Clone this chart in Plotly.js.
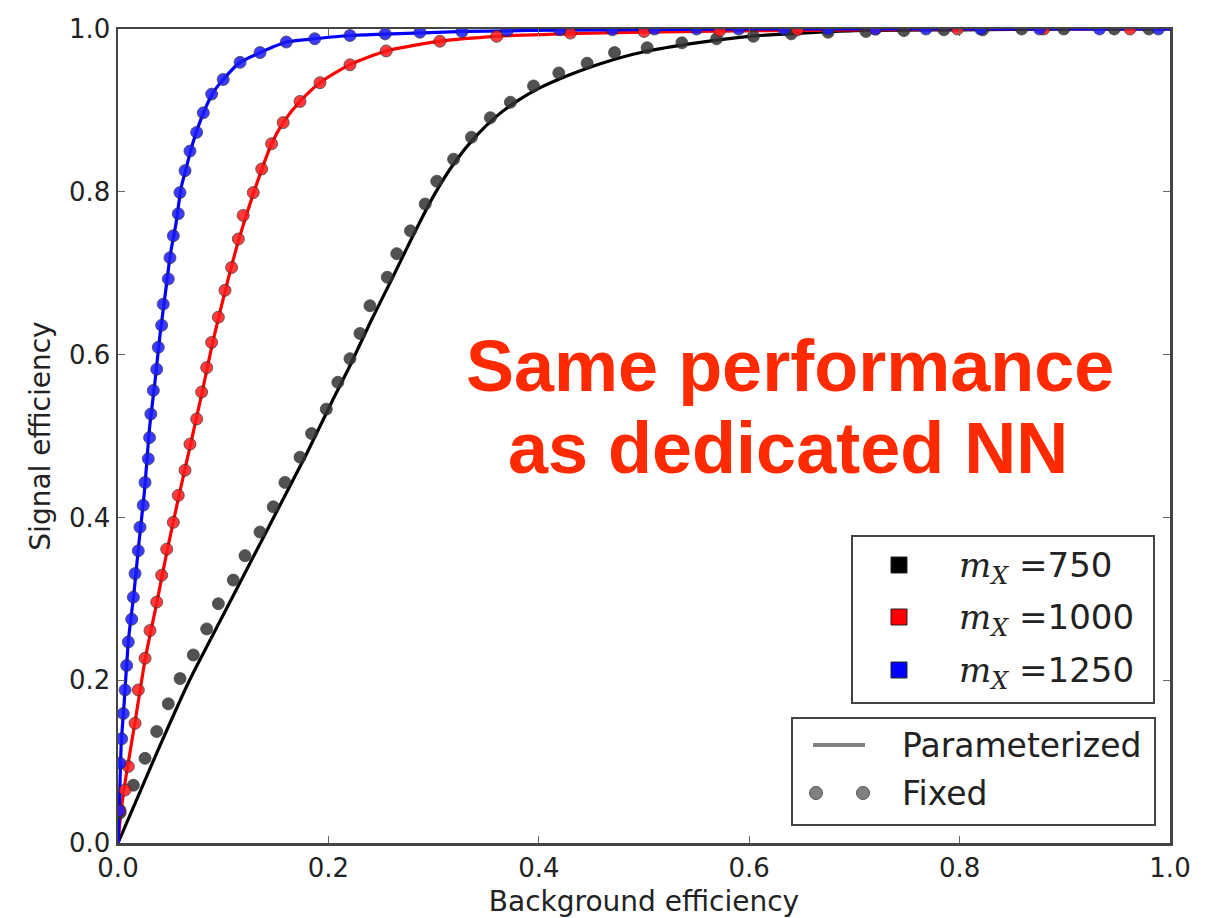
<!DOCTYPE html>
<html>
<head>
<meta charset="utf-8">
<script src="https://cdn.plot.ly/plotly-3.0.1.min.js"></script>
<style>html,body{margin:0;padding:0;background:#fff;}#chart{width:1223px;height:918px;}</style>
</head>
<body>
<div id="chart"></div>
<script>
// Parameterized NN (solid lines)
const param750_x = [0, 0.02, 0.04, 0.068, 0.10, 0.13, 0.15, 0.18, 0.204, 0.22, 0.24, 0.26, 0.28, 0.30, 0.32, 0.34, 0.36, 0.38, 0.40, 0.43, 0.46, 0.50, 0.55, 0.60, 0.65, 0.70, 0.80, 0.90, 1.0];
const param750_y = [0, 0.06, 0.12, 0.20, 0.28, 0.355, 0.405, 0.48, 0.544, 0.585, 0.64, 0.692, 0.745, 0.795, 0.836, 0.868, 0.893, 0.912, 0.927, 0.944, 0.958, 0.972, 0.983, 0.991, 0.995, 0.998, 0.999, 1.0, 1.0];

const param1000_x = [0, 0.003, 0.008, 0.016, 0.026, 0.037, 0.047, 0.058, 0.069, 0.080, 0.090, 0.102, 0.115, 0.129, 0.146, 0.157, 0.173, 0.192, 0.22, 0.255, 0.306, 0.36, 0.45, 0.55, 0.70, 0.85, 1.0];
const param1000_y = [0, 0.04, 0.085, 0.147, 0.227, 0.296, 0.361, 0.427, 0.49, 0.554, 0.615, 0.679, 0.742, 0.799, 0.859, 0.885, 0.911, 0.934, 0.956, 0.973, 0.985, 0.991, 0.995, 0.997, 0.999, 1.0, 1.0];

const param1250_x = [0, 0.001, 0.003, 0.006, 0.010, 0.015, 0.020, 0.025, 0.030, 0.035, 0.040, 0.045, 0.050, 0.055, 0.060, 0.065, 0.070, 0.080, 0.090, 0.100, 0.116, 0.135, 0.160, 0.187, 0.22, 0.26, 0.33, 0.45, 0.60, 0.80, 1.0];
const param1250_y = [0, 0.03, 0.12, 0.175, 0.25, 0.305, 0.37, 0.43, 0.51, 0.565, 0.625, 0.675, 0.725, 0.76, 0.805, 0.83, 0.855, 0.893, 0.921, 0.938, 0.959, 0.971, 0.984, 0.988, 0.992, 0.994, 0.997, 0.999, 1.0, 1.0, 1.0];

// Fixed (dedicated) NN (dots)
const fixed750_x = [0.002, 0.0146, 0.0257, 0.0368, 0.0478, 0.059, 0.0716, 0.0843, 0.0954, 0.1096, 0.1207, 0.135, 0.1476, 0.1587, 0.173, 0.184, 0.198, 0.209, 0.2205, 0.230, 0.2395, 0.256, 0.265, 0.278, 0.292, 0.303, 0.319, 0.336, 0.354, 0.373, 0.395, 0.419, 0.446, 0.472, 0.503, 0.536, 0.569, 0.604, 0.64, 0.675, 0.711, 0.747, 0.785, 0.822, 0.859, 0.899, 0.947, 0.98];
const fixed750_y = [0.037, 0.071, 0.104, 0.137, 0.171, 0.202, 0.231, 0.263, 0.294, 0.323, 0.353, 0.382, 0.413, 0.443, 0.474, 0.503, 0.533, 0.566, 0.595, 0.626, 0.660, 0.695, 0.724, 0.752, 0.785, 0.813, 0.840, 0.867, 0.891, 0.910, 0.930, 0.946, 0.958, 0.971, 0.977, 0.983, 0.988, 0.991, 0.994, 0.996, 0.997, 0.998, 0.999, 0.999, 1.0, 1.0, 1.0, 1.0];

const fixed1000_x = [0.002, 0.0067, 0.0098, 0.0162, 0.0193, 0.0257, 0.0304, 0.0368, 0.0415, 0.0463, 0.0526, 0.0573, 0.0637, 0.0684, 0.0748, 0.0795, 0.0843, 0.089, 0.0954, 0.1017, 0.108, 0.1144, 0.119, 0.1286, 0.1366, 0.146, 0.157, 0.173, 0.192, 0.2205, 0.255, 0.306, 0.36, 0.43, 0.50, 0.572, 0.646, 0.72, 0.798, 0.88, 0.962];
const fixed1000_y = [0.04, 0.065, 0.094, 0.147, 0.188, 0.227, 0.261, 0.296, 0.329, 0.361, 0.394, 0.427, 0.458, 0.490, 0.521, 0.554, 0.584, 0.615, 0.646, 0.679, 0.707, 0.742, 0.771, 0.799, 0.828, 0.859, 0.885, 0.911, 0.934, 0.956, 0.973, 0.985, 0.991, 0.995, 0.997, 0.998, 0.999, 1.0, 1.0, 1.0, 1.0];

const fixed1250_x = [0.001, 0.002, 0.0035, 0.005, 0.0067, 0.0082, 0.0098, 0.013, 0.0146, 0.0162, 0.0193, 0.0209, 0.024, 0.0257, 0.0288, 0.0300, 0.0312, 0.0336, 0.0368, 0.0383, 0.0415, 0.043, 0.0478, 0.0494, 0.0526, 0.0573, 0.0589, 0.0637, 0.0684, 0.0748, 0.0811, 0.089, 0.100, 0.116, 0.135, 0.160, 0.187, 0.2205, 0.254, 0.287, 0.327, 0.37, 0.42, 0.47, 0.51, 0.55, 0.59, 0.633, 0.675, 0.72, 0.768, 0.82, 0.876, 0.933, 0.989];
const fixed1250_y = [0.04, 0.098, 0.128, 0.159, 0.188, 0.218, 0.247, 0.275, 0.302, 0.331, 0.359, 0.388, 0.415, 0.443, 0.472, 0.498, 0.527, 0.556, 0.582, 0.609, 0.636, 0.662, 0.693, 0.719, 0.746, 0.773, 0.799, 0.826, 0.850, 0.873, 0.897, 0.920, 0.938, 0.959, 0.971, 0.984, 0.988, 0.992, 0.994, 0.996, 0.997, 0.998, 0.999, 0.999, 1.0, 1.0, 1.0, 1.0, 1.0, 1.0, 1.0, 1.0, 1.0, 1.0, 1.0];

const tickVals = [0, 0.2, 0.4, 0.6, 0.8, 1.0];
const tickText = ['0.0', '0.2', '0.4', '0.6', '0.8', '1.0'];
const massLabels = ['750', '1000', '1250'];
const seriesColors = ['#000000', '#ff0000', '#0000ff'];
const markerColors = ['#333333', '#ff1a1a', '#1a1aff'];
const styleLabels = ['Parameterized', 'Fixed'];

const lines = [[param750_x, param750_y], [param1000_x, param1000_y], [param1250_x, param1250_y]];
const dots = [[fixed750_x, fixed750_y], [fixed1000_x, fixed1000_y], [fixed1250_x, fixed1250_y]];

const traces = [];
for (let i = 0; i < 3; i++) {
  traces.push({
    x: lines[i][0], y: lines[i][1], type: 'scatter', mode: 'lines',
    line: {color: seriesColors[i], width: 3.2, shape: 'spline', smoothing: 0.6}, showlegend: false, hoverinfo: 'skip'
  });
}
for (let i = 0; i < 3; i++) {
  traces.push({
    x: dots[i][0], y: dots[i][1], type: 'scatter', mode: 'markers',
    marker: {color: markerColors[i], size: 12, opacity: 0.85, line: {color: 'rgba(40,40,40,0.8)', width: 1}},
    showlegend: false, hoverinfo: 'skip', cliponaxis: true
  });
}

// pixel -> paper helpers for legend decoration
const L = 118, R = 1170, T = 29, B = 843;
const px = v => (v - L) / (R - L);
const py = v => (B - v) / (B - T);

const shapes = [];
const annotations = [];

// Legend box 1 (masses)
shapes.push({type: 'rect', xref: 'paper', yref: 'paper', x0: px(852), x1: px(1154), y0: py(703), y1: py(536),
  line: {color: '#444', width: 2}, fillcolor: '#ffffff'});
const rowY1 = [565, 617, 670];
for (let i = 0; i < 3; i++) {
  shapes.push({type: 'rect', xref: 'paper', yref: 'paper', x0: px(891), x1: px(907), y0: py(rowY1[i] + 8), y1: py(rowY1[i] - 8),
    line: {color: '#222', width: 1}, fillcolor: seriesColors[i]});
  annotations.push({xref: 'paper', yref: 'paper', x: px(957), y: py(rowY1[i] + 2), xanchor: 'left', yanchor: 'middle', showarrow: false,
    text: '<span style="font-family:\'DejaVu Serif\'"><i>m</i><sub><i>X</i></sub> =</span>' + massLabels[i],
    font: {family: 'DejaVu Sans', size: 34, color: '#222'}});
}

// Legend box 2 (styles)
shapes.push({type: 'rect', xref: 'paper', yref: 'paper', x0: px(792), x1: px(1155), y0: py(825), y1: py(718),
  line: {color: '#444', width: 2}, fillcolor: '#ffffff'});
shapes.push({type: 'line', xref: 'paper', yref: 'paper', x0: px(813), x1: px(865), y0: py(745), y1: py(745),
  line: {color: '#808080', width: 4}});
[816, 863].forEach(cx => {
  shapes.push({type: 'circle', xref: 'paper', yref: 'paper', x0: px(cx - 6.5), x1: px(cx + 6.5), y0: py(793 + 6.5), y1: py(793 - 6.5),
    line: {color: '#555', width: 1}, fillcolor: '#808080'});
});
annotations.push({xref: 'paper', yref: 'paper', x: px(900), y: py(745), xanchor: 'left', yanchor: 'middle', showarrow: false,
  text: styleLabels[0], font: {family: 'DejaVu Sans', size: 33, color: '#222'}});
annotations.push({xref: 'paper', yref: 'paper', x: px(900), y: py(793), xanchor: 'left', yanchor: 'middle', showarrow: false,
  text: styleLabels[1], font: {family: 'DejaVu Sans', size: 33, color: '#222'}});

// Big red statement
annotations.push({xref: 'paper', yref: 'paper', x: px(790), y: py(366), xanchor: 'center', yanchor: 'middle', showarrow: false,
  text: '<b>Same performance</b>', font: {family: 'Liberation Sans, Arial', size: 72, color: '#ff2a00'}});
annotations.push({xref: 'paper', yref: 'paper', x: px(788), y: py(448), xanchor: 'center', yanchor: 'middle', showarrow: false,
  text: '<b>as dedicated NN</b>', font: {family: 'Liberation Sans, Arial', size: 72, color: '#ff2a00'}});

const axisCommon = {
  range: [0, 1], tickvals: tickVals, ticktext: tickText,
  showgrid: false, zeroline: false,
  showline: true, mirror: 'ticks', linecolor: '#444', linewidth: 2.5,
  ticks: 'inside', ticklen: 7, tickwidth: 1, tickcolor: '#666',
  tickfont: {family: 'DejaVu Sans', size: 26, color: '#222'}
};

const layout = {
  width: 1223, height: 918,
  margin: {l: L, r: 1223 - R, t: T, b: 918 - B},
  paper_bgcolor: '#ffffff', plot_bgcolor: '#ffffff',
  showlegend: false,
  xaxis: Object.assign({}, axisCommon, {
    title: {text: 'Background efficiency', font: {family: 'DejaVu Sans', size: 28, color: '#222'}, standoff: 10}
  }),
  yaxis: Object.assign({}, axisCommon, {
    title: {text: 'Signal efficiency', font: {family: 'DejaVu Sans', size: 28, color: '#222'}, standoff: 10}
  }),
  shapes: shapes,
  annotations: annotations
};

Plotly.newPlot('chart', traces, layout, {staticPlot: true, displayModeBar: false});
</script>
</body>
</html>
